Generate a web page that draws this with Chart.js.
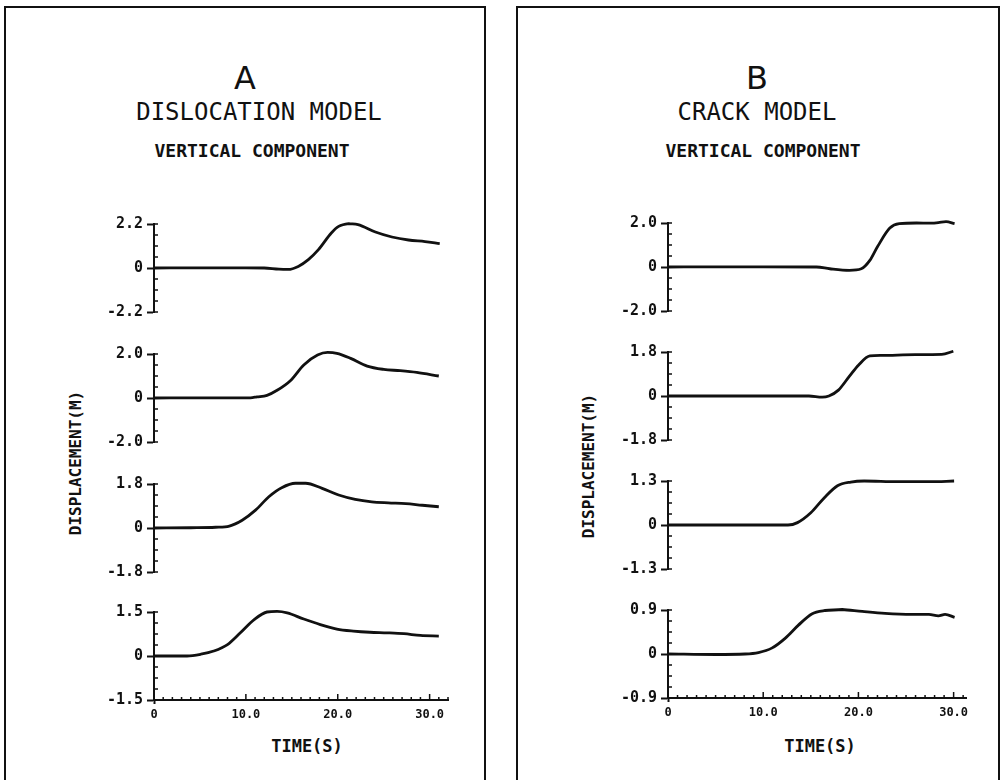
<!DOCTYPE html>
<html>
<head>
<meta charset="utf-8">
<script src="https://cdn.jsdelivr.net/npm/chart.js@4/dist/chart.umd.min.js"></script>
<style>
body{margin:0;background:#fff;width:1006px;height:780px;overflow:hidden;position:relative;font-family:"DejaVu Sans Mono",monospace;color:#111}
.frame{position:absolute;border:2px solid #111;top:6px;height:800px}
.t{position:absolute;transform:translate(-50%,-50%);white-space:nowrap}
.big{font-family:"DejaVu Sans",sans-serif;font-size:32px}
.model{font-size:24px}
.comp{font-size:18px;font-weight:bold}
.ylab{font-size:16px;font-weight:bold;transform:translate(-50%,-50%) rotate(-90deg)}
.xlab{font-size:17px;font-weight:bold}
canvas{position:absolute}
</style>
</head>
<body>
<div class="frame" style="left:4px;width:478px"></div>
<div class="frame" style="left:516px;width:480px"></div>

<div class="t big" style="left:245px;top:78px">A</div>
<div class="t model" style="left:259px;top:112px">DISLOCATION MODEL</div>
<div class="t comp" style="left:252px;top:150px">VERTICAL COMPONENT</div>
<div class="t ylab" style="left:75px;top:463px">DISPLACEMENT(M)</div>
<div class="t xlab" style="left:307px;top:746px">TIME(S)</div>

<div class="t big" style="left:757px;top:78px">B</div>
<div class="t model" style="left:757px;top:112px">CRACK MODEL</div>
<div class="t comp" style="left:763px;top:150px">VERTICAL COMPONENT</div>
<div class="t ylab" style="left:588px;top:466px">DISPLACEMENT(M)</div>
<div class="t xlab" style="left:820px;top:746px">TIME(S)</div>

<script>
// A - dislocation model, 4 stations top to bottom
const timeA1 = [0, 5, 10, 12, 13.6, 14.6, 15.7, 16.8, 17.9, 19.3, 20.1, 21.2, 22.2, 24.1, 25.9, 27.7, 29.5, 31.1];
const dispA1 = [0, 0.01, 0.01, 0, -0.06, -0.07, 0.08, 0.42, 0.92, 1.75, 2.08, 2.22, 2.17, 1.8, 1.55, 1.40, 1.32, 1.22];
const timeA2 = [0, 5, 10.5, 11.2, 12.3, 13.4, 14.9, 16.3, 17.8, 18.9, 19.9, 21.4, 23.2, 25.0, 26.8, 28.6, 31.0];
const dispA2 = [0, 0.01, 0.01, 0.05, 0.12, 0.35, 0.81, 1.5, 1.95, 2.07, 2.03, 1.8, 1.45, 1.3, 1.24, 1.16, 1.0];
const timeA3 = [0, 4, 6.7, 8.2, 9.6, 11.05, 12.5, 13.9, 15.4, 16.5, 18.3, 20.1, 21.9, 23.7, 25.5, 27.4, 29.2, 31.0];
const dispA3 = [0, 0.01, 0.03, 0.08, 0.32, 0.73, 1.28, 1.65, 1.83, 1.83, 1.62, 1.35, 1.17, 1.07, 1.03, 1.0, 0.93, 0.87];
const timeA4 = [0, 3.6, 5.1, 6.5, 8.0, 9.4, 10.9, 12.3, 13.4, 14.5, 16.3, 18.1, 19.9, 21.7, 23.5, 25.4, 27.2, 29.0, 31.0];
const dispA4 = [0, 0, 0.06, 0.17, 0.39, 0.79, 1.24, 1.5, 1.52, 1.47, 1.26, 1.07, 0.92, 0.85, 0.81, 0.79, 0.76, 0.70, 0.68];

// B - crack model
const timeB1 = [0, 5, 10, 15.6, 17.0, 19.05, 20.3, 21.2, 22.0, 23.3, 24.3, 26.1, 27.5, 28.4, 29.2, 30.1];
const dispB1 = [0, 0.01, 0.01, 0, -0.08, -0.15, -0.08, 0.3, 0.92, 1.77, 1.97, 2.0, 1.99, 2.02, 2.06, 1.97];
const timeB2 = [0, 5, 10, 14.8, 16.2, 16.9, 17.9, 19.0, 20.0, 21.2, 22.45, 25.95, 28.75, 29.97];
const dispB2 = [0, 0, 0, 0, -0.05, 0, 0.24, 0.78, 1.26, 1.64, 1.66, 1.69, 1.70, 1.83];
const timeB3 = [0, 5, 12.6, 13.6, 15.0, 16.4, 17.8, 19.2, 20.6, 24.1, 27.6, 30.05];
const dispB3 = [0, 0, 0, 0.07, 0.36, 0.80, 1.16, 1.27, 1.30, 1.28, 1.28, 1.30];
const timeB4 = [0, 5, 8.1, 9.5, 10.9, 12.3, 13.7, 15.1, 16.5, 18.3, 20.4, 22.8, 25.6, 27.4, 28.4, 29.1, 30.1];
const dispB4 = [0, -0.01, 0, 0.03, 0.12, 0.32, 0.59, 0.82, 0.89, 0.91, 0.87, 0.83, 0.81, 0.81, 0.78, 0.81, 0.75];

// y axis limits (+/-) per subplot
const yMaxA = [2.2, 2.0, 1.8, 1.5];
const yMaxB = [2.0, 1.8, 1.3, 0.9];
// time axis
const xMaxA = 32, xMaxB = 31.3;
const xTickLabels = {0: '0', 10: '10.0', 20: '20.0', 30: '30.0'};

const INK = '#111';
const tickFont = {family: 'DejaVu Sans Mono', size: 15, weight: 'bold'};
const xFont = {family: 'DejaVu Sans Mono', size: 12, weight: 'bold'};

// small ticks pointing into the plot
const innerTicks = {
  id: 'innerTicks',
  afterDraw(chart) {
    const {ctx, chartArea: a, scales: {x, y}} = chart;
    ctx.save();
    ctx.strokeStyle = INK;
    ctx.lineWidth = 1.5;
    ctx.beginPath();
    y.ticks.forEach(t => {
      const py = y.getPixelForValue(t.value);
      ctx.moveTo(a.left, py); ctx.lineTo(a.left + 4, py);
    });
    if (x.options.display) {
      x.ticks.forEach(t => {
        const px = x.getPixelForValue(t.value);
        const len = t.value % 10 === 0 ? 6 : 3;
        ctx.moveTo(px, a.bottom); ctx.lineTo(px, a.bottom - len);
      });
    }
    ctx.stroke();
    ctx.restore();
  }
};

function yLabel(v, ymax) {
  if (Math.abs(v) < 1e-9) return '0';
  if (Math.abs(Math.abs(v) - ymax) < 1e-6) return (v < 0 ? '-' : '') + ymax.toFixed(1);
  return '';
}

function makePlot(left, top, w, times, disp, ymax, xmax, showX) {
  // padding must exceed half a tick label + tick padding, else the plot area shrinks
  const yW = 60, padT = 16, padB = showX ? 0 : 16, padR = 14, h = 88, xH = showX ? 30 : 0;
  const c = document.createElement('canvas');
  c.width = yW + w + padR;
  c.height = padT + h + xH + padB;
  c.style.left = (left - yW) + 'px';
  c.style.top = (top - padT) + 'px';
  document.body.appendChild(c);
  new Chart(c, {
    type: 'line',
    data: {
      datasets: [{
        data: times.map((t, i) => ({x: t, y: disp[i]})),
        borderColor: INK,
        borderWidth: 2.8,
        pointRadius: 0,
        cubicInterpolationMode: 'monotone',
        clip: false
      }]
    },
    options: {
      responsive: false,
      animation: false,
      devicePixelRatio: 1,
      layout: {padding: {top: padT, right: padR, bottom: padB, left: 0}},
      plugins: {legend: {display: false}, tooltip: {enabled: false}},
      scales: {
        x: {
          type: 'linear', min: 0, max: xmax, display: showX,
          afterFit: s => { s.height = xH; },
          ticks: {
            stepSize: 1, includeBounds: false, autoSkip: false, maxRotation: 0,
            padding: 4, font: xFont, color: INK,
            callback: v => xTickLabels[v] !== undefined ? xTickLabels[v] : ''
          },
          grid: {
            drawOnChartArea: false, tickLength: 4, tickWidth: 2,
            tickColor: ctx => (ctx.tick && ctx.tick.value === 0) ? INK : 'rgba(0,0,0,0)'
          },
          border: {color: INK, width: 2}
        },
        y: {
          min: -ymax, max: ymax,
          afterFit: s => { s.width = yW; },
          ticks: {
            stepSize: ymax / 4, includeBounds: false, autoSkip: false,
            padding: 4, font: tickFont, color: INK,
            callback: v => yLabel(v, ymax)
          },
          grid: {
            drawOnChartArea: false, tickLength: 7, tickWidth: 2,
            tickColor: ctx => (ctx.tick && yLabel(ctx.tick.value, ymax) !== '') ? INK : 'rgba(0,0,0,0)'
          },
          border: {color: INK, width: 2}
        }
      }
    },
    plugins: [innerTicks]
  });
}

const topsA = [224, 354, 484, 612];
const topsB = [223, 352, 481, 610];
const tracesA = [[timeA1, dispA1], [timeA2, dispA2], [timeA3, dispA3], [timeA4, dispA4]];
const tracesB = [[timeB1, dispB1], [timeB2, dispB2], [timeB3, dispB3], [timeB4, dispB4]];

tracesA.forEach((tr, i) => makePlot(154, topsA[i], 294, tr[0], tr[1], yMaxA[i], xMaxA, i === 3));
tracesB.forEach((tr, i) => makePlot(668, topsB[i], 298, tr[0], tr[1], yMaxB[i], xMaxB, i === 3));
</script>
</body>
</html>
